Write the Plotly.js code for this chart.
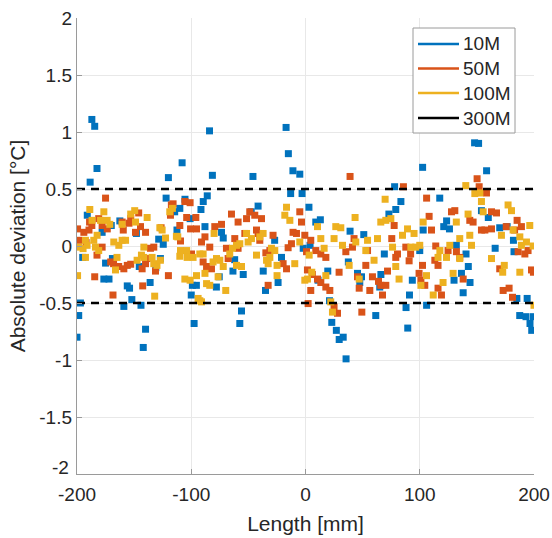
<!DOCTYPE html>
<html>
<head>
<meta charset="utf-8">
<script src="https://cdn.plot.ly/plotly-3.0.1.min.js"></script>
<style>html,body{margin:0;padding:0;background:#fff;}#chart{width:552px;height:538px;}</style>
</head>
<body>
<div id="chart"></div>
<script>
// Series names
const seriesNames = ["10M", "50M", "100M", "300M"];

// 10M (blue)
const x10 = [-200,-198.5,-197,-195,-191,-188.5,-187,-184.5,-182.5,-178,-176.5,-175,-172,-170,-169,-162.5,-159,-156,-154,-152,-148,-145.5,-144,-142,-140,-136,-131,-128.5,-127,-124.5,-122,-120,-114.5,-112.5,-110,-108,-105.5,-101,-100,-99,-97.5,-95.5,-91.5,-89.5,-88,-86,-84,-81.5,-78,-75.5,-73.5,-72,-63.5,-62,-57.5,-56,-54.5,-47.5,-46,-41.5,-37,-35,-27,-24,-21,-17,-15,-13,-11,-5,-3,-2,3,4,9,11,13,19.5,21,23,27,29.5,33,35.5,37.5,39,45.5,47.5,49,51,61.5,65,66,69,73,78,79,83.5,88,89.5,91,93.5,100,102.5,103,106,117.5,121,123.5,126,130,132,136.5,138,140.5,142.5,144,148,151.5,154,158.5,160,166,170,176.5,182,182.5,185,187.5,193,194,196.5,198,199.5];
const y10 = [-0.80,-0.61,-0.50,-0.10,0.27,0.56,1.11,1.05,0.68,0.12,-0.29,-0.15,-0.29,0.18,-0.11,0.22,-0.53,-0.35,-0.37,-0.47,0.11,-0.18,-0.52,-0.89,-0.73,-0.32,-0.19,0.06,-0.11,0.015,0.42,0.60,0.30,0.14,0.33,0.73,0.41,0.24,-0.43,-0.345,-0.68,-0.345,0.32,0.39,0.17,0.44,1.01,0.62,-0.36,-0.27,0.12,0.07,-0.22,-0.12,-0.68,-0.57,-0.25,0.30,0.61,0.35,-0.22,-0.39,0.05,-0.32,-0.10,1.04,0.81,0.46,0.66,0.63,0.46,-0.02,0.34,0.006,0.21,-0.30,0.23,-0.22,-0.48,-0.67,-0.74,-0.82,-0.80,-0.99,-0.14,0.13,-0.24,-0.32,-0.27,0.10,-0.61,-0.36,-0.25,-0.07,0.28,0.52,0.32,0.39,-0.54,-0.72,-0.43,-0.30,-0.04,0.69,0.14,-0.52,0.42,0.17,0.22,0.15,-0.30,0.006,-0.24,-0.41,-0.07,-0.18,-0.32,0.905,0.90,0.31,0.66,0.25,-0.02,0.16,0.17,0.05,-0.05,-0.46,-0.61,-0.62,-0.46,-0.68,-0.74,-0.62];

// 50M (orange)
const x50 = [-199.5,-198.5,-194,-192,-189.5,-189,-187,-184.5,-182.5,-181,-178,-178,-175,-173.5,-170.5,-168.5,-168,-163.5,-160.5,-159.5,-159,-156,-154.5,-153,-153,-148.8,-146,-144.4,-143,-142.5,-140,-140,-138.6,-135.7,-132.8,-131.3,-126.4,-120,-118.2,-117.4,-115.9,-110,-109.4,-105.6,-104,-101,-100.6,-99.8,-96,-95.4,-91,-89.6,-88,-86.6,-83.8,-82.3,-79.4,-73.5,-69.2,-67.7,-64.8,-61.9,-59,-59,-53.1,-51.6,-48.8,-44.4,-42.9,-41.5,-40,-38.5,-34.7,-32.7,-31.2,-28.4,-19.6,-16.6,-15.2,-12.3,-10.9,-7.9,-5,-3.5,-0.6,0.9,1.7,2.3,4.6,4.6,6,9,10.5,13.4,13.4,17.8,17.8,21.3,25,28,29.4,35.3,39,41.1,42.5,45.5,47,49.3,52.8,54.3,56.3,58.6,63.9,65.9,67.4,70.3,71.8,75.5,77.6,79,80.5,85.7,87.8,90.7,92,99.4,101,102.4,104.4,106,108.2,110.3,113.2,114,116,116,119,124.8,127.8,130.7,132.1,135,138,143.8,146.7,150.2,152,154,157,158.4,162.8,162.8,167.2,170,173,175.7,178.2,181.2,183,185.2,186.1,189,192,194.8,197.8,199.5];
const y50 = [0.15,0.05,0.12,0.03,0.14,0.21,0.18,-0.27,-0.08,0.24,0.18,-0.01,0.42,0.15,-0.14,-0.43,-0.155,-0.18,0.21,0.14,-0.20,-0.17,0.20,0.24,-0.16,0.12,0.29,0.17,-0.20,-0.35,-0.155,0.12,-0.11,-0.02,-0.01,-0.22,0.16,-0.26,0.27,0.36,0.37,0.18,0.044,0.39,0.25,0.38,0.15,-0.07,0.25,0.15,0.035,-0.14,0.08,-0.18,-0.01,-0.20,0.17,0.19,-0.02,-0.11,0.28,0.065,0.21,-0.02,0.11,0.24,0.30,0.27,0.14,0.11,0.05,0.24,-0.06,-0.345,-0.04,0.094,-0.155,-0.20,-0.015,0.02,0.12,0.11,0.30,0.21,0.094,-0.05,-0.21,-0.505,0.05,-0.39,-0.25,-0.04,-0.29,-0.07,-0.32,-0.10,-0.36,-0.39,-0.535,-0.59,-0.23,-0.05,0.61,-0.01,0.065,-0.27,-0.37,-0.58,-0.17,-0.04,-0.39,-0.27,-0.31,-0.345,-0.43,-0.345,-0.22,0.065,0.18,-0.10,-0.07,0.52,-0.01,-0.13,-0.07,-0.24,-0.30,-0.17,-0.345,0.42,0.26,0.14,-0.125,0.00,-0.17,-0.37,-0.43,-0.04,0.30,0.31,-0.05,-0.10,-0.29,0.225,0.21,0.59,0.52,0.14,0.14,0.465,0.15,0.30,0.29,-0.20,-0.39,0.17,-0.37,-0.45,0.14,0.225,-0.05,0.17,-0.07,-0.04,-0.21,-0.23];

// 100M (yellow)
const x100 = [-199.5,-198.4,-194.7,-192.6,-192.6,-191.2,-188.8,-186.8,-185.3,-183.8,-182.4,-181,-179.4,-176.5,-173.6,-171.3,-167.8,-166.3,-165,-163.4,-160.5,-160.5,-157.5,-153,-149.5,-148.8,-147.4,-143.6,-141.5,-141.5,-138.6,-134.3,-132.8,-132,-130,-127.5,-127,-125.5,-122.5,-118.8,-116.5,-113,-111.8,-110,-109.4,-105.6,-104,-103.6,-101,-98.4,-95.4,-94,-92.5,-92.5,-91,-89.6,-88,-86.6,-83.8,-80.9,-80,-77.9,-76.5,-75,-72,-69.8,-66.3,-63.9,-60.4,-60.4,-57.5,-56,-51.6,-50.2,-47.3,-42.9,-40,-37.1,-34.1,-32.7,-31.2,-29.8,-26.9,-24.9,-24.9,-18.1,-16.6,-13.7,-9.4,-5,-0.6,1.7,3.2,5.5,10.5,13.4,16.3,17.8,22.1,23.6,25,26.5,30.9,32.4,38.2,43.4,44,47,52.8,54.3,60,63,65.9,69.7,70.3,74.7,76.2,79,81.9,84.9,89.3,92.2,95,96.5,100,101,103,105.9,111.8,116,117.6,120.4,123.4,126.3,129.2,132,135,135,140.3,142.3,143.8,145.3,148.2,152.6,154,155.5,162.8,171.5,172.6,174,177.3,180.3,181.7,187.6,187.6,189,193.4,196.3,199.2,200];
const y100 = [-0.26,-0.01,-0.023,0.05,-0.10,0.006,0.32,0.225,0.05,-0.01,0.094,-0.04,0.225,0.30,0.225,0.19,0.035,-0.21,-0.10,0.006,0.19,0.05,0.05,0.28,0.31,0.21,-0.125,-0.08,-0.01,-0.10,0.25,-0.10,-0.155,-0.44,-0.17,0.16,-0.125,0.14,0.07,0.30,0.33,0.085,0.08,-0.09,-0.04,-0.29,-0.04,-0.10,-0.30,-0.10,-0.26,-0.46,-0.07,-0.48,-0.49,-0.07,-0.24,-0.33,-0.345,-0.14,0.11,-0.11,-0.27,-0.125,-0.18,-0.39,-0.07,-0.02,0.006,-0.17,0.02,-0.18,0.11,0.035,0.065,-0.08,0.08,0.11,-0.125,-0.155,-0.10,-0.02,-0.04,-0.17,-0.26,0.27,0.34,0.225,-0.155,0.035,-0.30,-0.29,-0.08,-0.23,0.17,0.065,-0.02,-0.26,-0.49,-0.58,0.065,0.17,0.16,0.006,-0.17,0.25,0.035,-0.29,-0.04,0.05,-0.125,0.065,0.21,0.41,0.225,0.24,-0.01,-0.18,-0.29,0.094,0.15,-0.01,0.11,-0.01,0.006,-0.345,0.21,-0.26,-0.43,-0.10,-0.04,-0.32,-0.10,0.006,-0.24,0.21,0.065,-0.11,0.53,0.28,0.094,0.006,0.46,0.465,0.39,0.30,-0.11,0.094,-0.23,-0.17,0.36,0.31,0.14,0.08,-0.23,0.006,0.035,0.18,0.0,-0.52];

// 300M threshold lines
const xLimits = [-200, 200];
const thresholds = [0.5, -0.5];

// Tick labels
const xTickVals = [-200, -100, 0, 100, 200];
const xTickText = ["-200", "-100", "0", "100", "200"];
const yTickVals = [-2, -1.5, -1, -0.5, 0, 0.5, 1, 1.5, 2];
const yTickText = ["-2", "-1.5", "-1", "-0.5", "0", "0.5", "1", "1.5", "2"];

const colors = ["#0072BD", "#D95319", "#EDB120", "#000000"];
const FONT = "Liberation Sans, Arial, Helvetica, sans-serif";
const TXT = "#262626";

// plot area geometry (pixels) used for paper-coordinate placement of the legend box
const W = 552, H = 538, ML = 77, MR = 18, MT = 18, MB = 64;
const PW = W - ML - MR, PH = H - MT - MB;
const px = v => (v - ML) / PW;
const py = v => (H - MB - v) / PH;

const traces = [];
const xs = [x10, x50, x100], ys = [y10, y50, y100];
for (let i = 0; i < 3; i++) {
  traces.push({
    type: "scatter", mode: "markers", x: xs[i], y: ys[i], name: seriesNames[i],
    marker: {symbol: "square", size: 7, color: colors[i], line: {width: 0}},
    showlegend: false, hoverinfo: "skip"
  });
}
thresholds.forEach(t => {
  traces.push({
    type: "scatter", mode: "lines", x: xLimits, y: [t, t], name: seriesNames[3],
    line: {color: colors[3], width: 2.5, dash: "8px,6px"},
    showlegend: false, hoverinfo: "skip"
  });
});

// y tick labels: the lowest one ("-2") is drawn lifted as in the reference
const yLabelText = yTickText.map((t, i) => (i === 0 ? "" : t));

const shapes = [];
const annotations = [];
// legend box
shapes.push({type: "rect", xref: "paper", yref: "paper",
  x0: px(413), x1: px(515), y0: py(133), y1: py(28),
  line: {color: "#9a9a9a", width: 1}, fillcolor: "#ffffff", layer: "above"});
const rowY = [44, 68.5, 93, 118];
seriesNames.forEach((n, i) => {
  shapes.push({type: "line", xref: "paper", yref: "paper",
    x0: px(418), x1: px(459), y0: py(rowY[i]), y1: py(rowY[i]),
    line: {color: colors[i], width: 2.5}, layer: "above"});
  annotations.push({xref: "paper", yref: "paper", x: px(461), y: py(rowY[i]),
    xanchor: "left", yanchor: "middle", text: n, showarrow: false,
    font: {family: FONT, size: 19, color: TXT}});
});
annotations.push({xref: "paper", yref: "y", x: 0, y: yTickVals[0], xanchor: "right", yanchor: "middle",
  xshift: -6, yshift: 7, text: yTickText[0], showarrow: false,
  font: {family: FONT, size: 19, color: TXT}});

const axisCommon = {
  showgrid: true, gridcolor: "#e8e8e8", gridwidth: 1,
  zeroline: false, showline: true, linecolor: "#9a9a9a", linewidth: 1.2,
  ticks: "inside", ticklen: 5, tickcolor: "#9a9a9a",
  tickfont: {family: FONT, size: 19, color: TXT},
  mirror: false, fixedrange: true
};

const layout = {
  width: W, height: H,
  margin: {l: ML, r: MR, t: MT, b: MB, pad: 0},
  paper_bgcolor: "#ffffff", plot_bgcolor: "#ffffff",
  showlegend: false,
  xaxis: Object.assign({}, axisCommon, {
    range: [-200, 200], tickvals: xTickVals, ticktext: xTickText, ticklabelstandoff: 3,
    title: {text: "Length [mm]", font: {family: FONT, size: 21, color: TXT}, standoff: 12}
  }),
  yaxis: Object.assign({}, axisCommon, {
    range: [-2, 2], tickvals: yTickVals, ticktext: yLabelText,
    title: {text: "Absolute deviation [°C]", font: {family: FONT, size: 21, color: TXT}, standoff: 8}
  }),
  shapes: shapes,
  annotations: annotations
};

Plotly.newPlot("chart", traces, layout, {staticPlot: true, displayModeBar: false});
</script>
</body>
</html>
